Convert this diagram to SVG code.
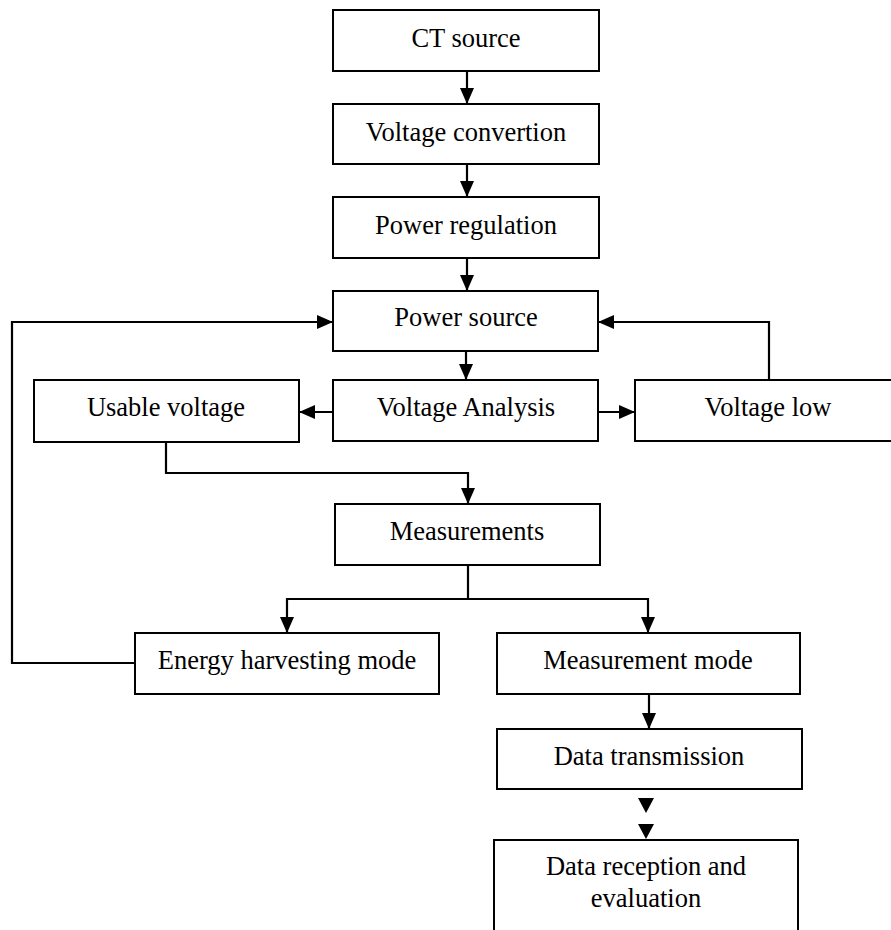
<svg xmlns="http://www.w3.org/2000/svg" width="891" height="930" viewBox="0 0 891 930">
  <style>
    .box { fill: #ffffff; stroke: #000000; stroke-width: 2; }
    .lbl { font-family: "Liberation Serif", "Times New Roman", serif; font-size: 26.5px; fill: #000000; text-anchor: middle; }
    .wire { fill: none; stroke: #000000; stroke-width: 2.2; }
  </style>
  <defs>
    <marker id="arrow" markerUnits="userSpaceOnUse" markerWidth="16" markerHeight="14" refX="16" refY="7" orient="auto">
      <path d="M0,0 L16,7 L0,14 Z" fill="#000000"/>
    </marker>
  </defs>
  <rect width="891" height="930" fill="#ffffff"/>

  <g id="connectors">
    <line class="wire" x1="467" y1="71" x2="467" y2="104" marker-end="url(#arrow)"/>
    <line class="wire" x1="467" y1="164" x2="467" y2="197" marker-end="url(#arrow)"/>
    <line class="wire" x1="467" y1="258" x2="467" y2="291" marker-end="url(#arrow)"/>
    <line class="wire" x1="466" y1="351" x2="466" y2="380" marker-end="url(#arrow)"/>
    <line class="wire" x1="333" y1="412" x2="299" y2="412" marker-end="url(#arrow)"/>
    <line class="wire" x1="598" y1="412" x2="635" y2="412" marker-end="url(#arrow)"/>
    <polyline class="wire" points="769,380 769,322 598,322" marker-end="url(#arrow)"/>
    <polyline class="wire" points="135,663 12,663 12,322 333,322" marker-end="url(#arrow)"/>
    <polyline class="wire" points="166,442 166,473 468,473 468,504" marker-end="url(#arrow)"/>
    <polyline class="wire" points="468,565 468,599 287,599 287,633" marker-end="url(#arrow)"/>
    <polyline class="wire" points="468,599 648,599 648,633" marker-end="url(#arrow)"/>
    <line class="wire" x1="649" y1="694" x2="649" y2="729" marker-end="url(#arrow)"/>
    <path d="M638,798 L654,798 L646,813 Z" fill="#000000"/>
    <path d="M638,824 L654,824 L646,839 Z" fill="#000000"/>
  </g>

  <g id="ct-source">
    <rect class="box" x="333" y="10" width="266" height="61"/>
    <text class="lbl" x="466" y="47">CT source</text>
  </g>
  <g id="voltage-convertion">
    <rect class="box" x="333" y="104" width="266" height="60"/>
    <text class="lbl" x="466" y="141">Voltage convertion</text>
  </g>
  <g id="power-regulation">
    <rect class="box" x="333" y="197" width="266" height="61"/>
    <text class="lbl" x="466" y="234">Power regulation</text>
  </g>
  <g id="power-source">
    <rect class="box" x="333" y="291" width="265" height="60"/>
    <text class="lbl" x="466" y="326">Power source</text>
  </g>
  <g id="usable-voltage">
    <rect class="box" x="34" y="380" width="265" height="62"/>
    <text class="lbl" x="166" y="416">Usable voltage</text>
  </g>
  <g id="voltage-analysis">
    <rect class="box" x="333" y="380" width="265" height="61"/>
    <text class="lbl" x="466" y="416">Voltage Analysis</text>
  </g>
  <g id="voltage-low">
    <rect class="box" x="635" y="380" width="266" height="61"/>
    <text class="lbl" x="768" y="416">Voltage low</text>
  </g>
  <g id="measurements">
    <rect class="box" x="335" y="504" width="265" height="61"/>
    <text class="lbl" x="467" y="540">Measurements</text>
  </g>
  <g id="energy-harvesting-mode">
    <rect class="box" x="135" y="633" width="304" height="61"/>
    <text class="lbl" x="287" y="669">Energy harvesting mode</text>
  </g>
  <g id="measurement-mode">
    <rect class="box" x="497" y="633" width="303" height="61"/>
    <text class="lbl" x="648" y="669">Measurement mode</text>
  </g>
  <g id="data-transmission">
    <rect class="box" x="497" y="729" width="305" height="60"/>
    <text class="lbl" x="649" y="765">Data transmission</text>
  </g>
  <g id="data-reception">
    <rect class="box" x="494" y="840" width="304" height="100"/>
    <text class="lbl" x="646" y="875">Data reception and</text>
    <text class="lbl" x="646" y="907">evaluation</text>
  </g>
</svg>
